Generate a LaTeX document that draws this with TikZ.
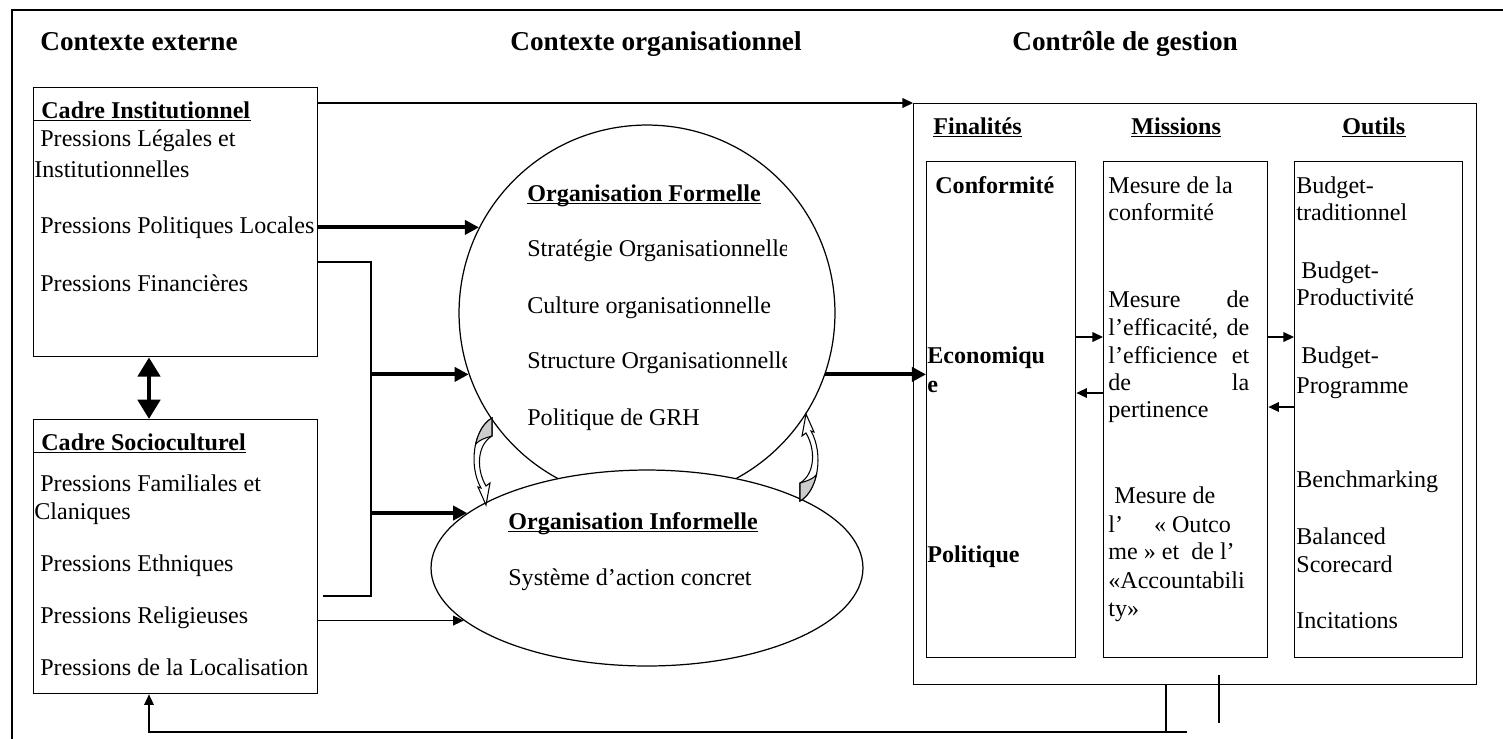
\documentclass[tikz,border=0pt]{standalone}
\usepackage{fontspec}
\setmainfont{Liberation Serif}
\usepackage{tikz}
\usetikzlibrary{arrows.meta,shapes.geometric}
\newcommand\txtfont{\fontsize{13.7}{16}\selectfont}
\newcommand\headfont{\fontsize{15.5}{18}\selectfont\bfseries}
\tikzset{
  frame/.style={draw=black, line width=1pt},
  box/.style={draw=black, line width=0.8pt, inner sep=0pt, anchor=north west},
  ln/.style={draw=black, line width=0.7pt},
  lnarr/.style={ln, -{Triangle[length=6pt,width=5.5pt]}},
  fat/.style={draw=black, line width=2.2pt, -{Triangle[length=8pt,width=8pt]}},
  dblarr/.style={draw=black, line width=2.8pt,
    {Triangle[length=11pt,width=12.5pt]}-{Triangle[length=11pt,width=12.5pt]}},
  lab/.style={anchor=base west, inner sep=0pt, font=\txtfont},
  labb/.style={lab, font=\txtfont\bfseries},
  head/.style={anchor=base west, inner sep=0pt, font=\headfont},
  ul/.style={append after command={
    ([yshift=-1.4pt]\tikzlastnode.base west) edge[line width=0.8pt]
    ([yshift=-1.4pt]\tikzlastnode.base east)}},
  curl/.pic={
    \draw[fill=white, line width=0.6pt] (12,-43) .. controls (-6,-33) and (-12,4) .. (1,27)
      -- (-2,26) -- (6,44) -- (10,22) -- (6,25)
      .. controls (-4,8) and (-3,-16) .. (12,-25) -- cycle;
    \draw[fill=black!20, line width=0.6pt] (12,-43) -- (12,-25)
      .. controls (5,-23) and (-1,-21) .. (-4.4,-16.8)
      .. controls (-1.8,-28.5) and (3.9,-38.5) .. (12,-43) -- cycle;
  }
}
\begin{document}
\begin{tikzpicture}[x=0.02cm,y=-0.02cm]
  \useasboundingbox (0,0) rectangle (1503,738);
  \draw[frame] (12,760) -- (12,10) -- (1520,10);
  % headers
  \node[head] (h1) at (40,50) {Contexte externe};
  \node[head] (h2) at (510,50) {Contexte organisationnel};
  \node[head] (h3) at (1012,50) {Contrôle de gestion};
  % external context
  \node[box, minimum width=5.68cm, minimum height=5.38cm] (inst) at (33,87) {};
  \node[box, minimum width=5.68cm, minimum height=5.48cm] (socio) at (33,419) {};
  \node[labb, ul] (inst-t) at (33,118) {\hspace{0.16cm}Cadre Institutionnel};
  \node[lab] (i1) at (40,146) {Pressions Légales et};
  \node[lab] (i2) at (34,177) {Institutionnelles};
  \node[lab] (i3) at (40,233) {Pressions Politiques Locales};
  \node[lab] (i4) at (40,291) {Pressions Financières};
  \node[labb, ul] (socio-t) at (33,450) {\hspace{0.16cm}Cadre Socioculturel};
  \node[lab] (s1) at (40,491) {Pressions Familiales et};
  \node[lab] (s2) at (34,519) {Claniques};
  \node[lab] (s3) at (40,571) {Pressions Ethniques};
  \node[lab] (s4) at (40,623) {Pressions Religieuses};
  \node[lab] (s5) at (40,675) {Pressions de la Localisation};
  \coordinate (dx) at (149,0);
  \draw[dblarr] (inst.south -| dx) -- (socio.north -| dx);
  % organisational context
  \node[circle, draw, line width=0.7pt, minimum size=7.52cm, inner sep=0pt] (circ) at (647,313) {};
  \node[ellipse, draw, fill=white, line width=0.7pt, minimum width=8.64cm,
        minimum height=3.92cm, inner sep=0pt] (ell) at (647,568) {};
  \node[labb, ul] (of) at (527,201) {Organisation Formelle};
  \begin{scope}
    \clip (0,0) rectangle (786,738);
    \node[lab] (of1) at (527,256) {Stratégie Organisationnelle};
    \node[lab] (of3) at (527,368) {Structure Organisationnelle};
  \end{scope}
  \node[lab] (of2) at (527,313) {Culture organisationnelle};
  \node[lab] (of4) at (527,425) {Politique de GRH};
  \node[labb, ul] (oi) at (508,529) {Organisation Informelle};
  \node[lab] (oi1) at (508,585) {Système d’action concret};
  \pic at (480,461) {curl};
  \pic[rotate=180] at (812,458) {curl};
  % management control
  \node[box, minimum width=11.26cm, minimum height=11.62cm] (cg) at (913,103) {};
  \node[box, minimum width=2.98cm, minimum height=9.92cm] (fin) at (926,161) {};
  \node[box, minimum width=3.28cm, minimum height=9.92cm] (mis) at (1103,161) {};
  \node[box, minimum width=3.36cm, minimum height=9.92cm] (out) at (1294,161) {};
  \node[labb, ul] (fin-t) at (933,134) {Finalités};
  \node[labb, ul] (mis-t) at (1131,134) {Missions};
  \node[labb, ul] (out-t) at (1342,134) {Outils};
  \node[labb] (f1) at (935,193) {Conformité};
  \node[labb] (f2) at (927,363) {Economiqu};
  \node[labb] (f2b) at (927,392) {e};
  \node[labb] (f3) at (927,562) {Politique};
  \node[lab] (m1) at (1108,193) {Mesure de la};
  \node[lab] (m1b) at (1108,220) {conformité};
  \node[lab] (m2) at (1108,307) {\makebox[2.82cm][s]{Mesure de}};
  \node[lab] (m2b) at (1108,335) {\makebox[2.82cm][s]{l’efficacité, de}};
  \node[lab] (m2c) at (1108,363) {\makebox[2.82cm][s]{l’efficience et}};
  \node[lab] (m2d) at (1108,390) {\makebox[2.82cm][s]{de la}};
  \node[lab] (m2e) at (1108,417) {pertinence};
  \node[lab] (m3) at (1114,503) {Mesure de};
  \node[lab] (m3b) at (1108,532) {l’\hspace{0.62cm}« Outco};
  \node[lab] (m3c) at (1108,559) {me » et\ \ de l’};
  \node[lab] (m3d) at (1108,588) {«Accountabili};
  \node[lab] (m3e) at (1108,616) {ty»};
  \node[lab] (o1) at (1296,193) {Budget-};
  \node[lab] (o1b) at (1296,220) {traditionnel};
  \node[lab] (o2) at (1301,278) {Budget-};
  \node[lab] (o2b) at (1296,305) {Productivité};
  \node[lab] (o3) at (1301,363) {Budget-};
  \node[lab] (o3b) at (1296,393) {Programme};
  \node[lab] (o4) at (1296,487) {Benchmarking};
  \node[lab] (o5) at (1296,544) {Balanced};
  \node[lab] (o5b) at (1296,572) {Scorecard};
  \node[lab] (o6) at (1296,628) {Incitations};
  % connectors
  \draw[lnarr] (inst.east |- cg.north west) -- (cg.north west);
  \draw[fat] (inst.east |- circ.153) -- (circ.153);
  \coordinate (jn1) at (371,262);
  \coordinate (jn2) at (371,596);
  \coordinate (jn3) at (323,596);
  \draw[ln] (inst.east |- jn1) -- (jn1) -- (jn2) -- (jn3);
  \draw[fat] (jn1 |- circ.199) -- (circ.199);
  \draw[fat] (jn2 |- ell.163) -- (ell.163);
  \draw[lnarr] (socio.east |- ell.196) -- (ell.196);
  \draw[fat] (circ.341) -- (circ.341 -| fin.west);
  \draw[lnarr] (fin.east |- 0,337) -- (mis.west |- 0,337);
  \draw[lnarr] (mis.west |- 0,393) -- (fin.east |- 0,393);
  \draw[lnarr] (mis.east |- 0,337) -- (out.west |- 0,337);
  \draw[lnarr] (out.west |- 0,407) -- (mis.east |- 0,407);
  % feedback
  \coordinate (fbB) at (1166,733);
  \coordinate (fbE) at (1187,732);
  \draw[ln] (cg.south -| fbB) -- (fbB);
  \draw[lnarr] (fbE) -- (fbE -| dx) -- (socio.south -| dx);
  \coordinate (st1) at (1219,675);
  \coordinate (st2) at (1219,723);
  \draw[ln] (st1) -- (st2);
\end{tikzpicture}
\end{document}
